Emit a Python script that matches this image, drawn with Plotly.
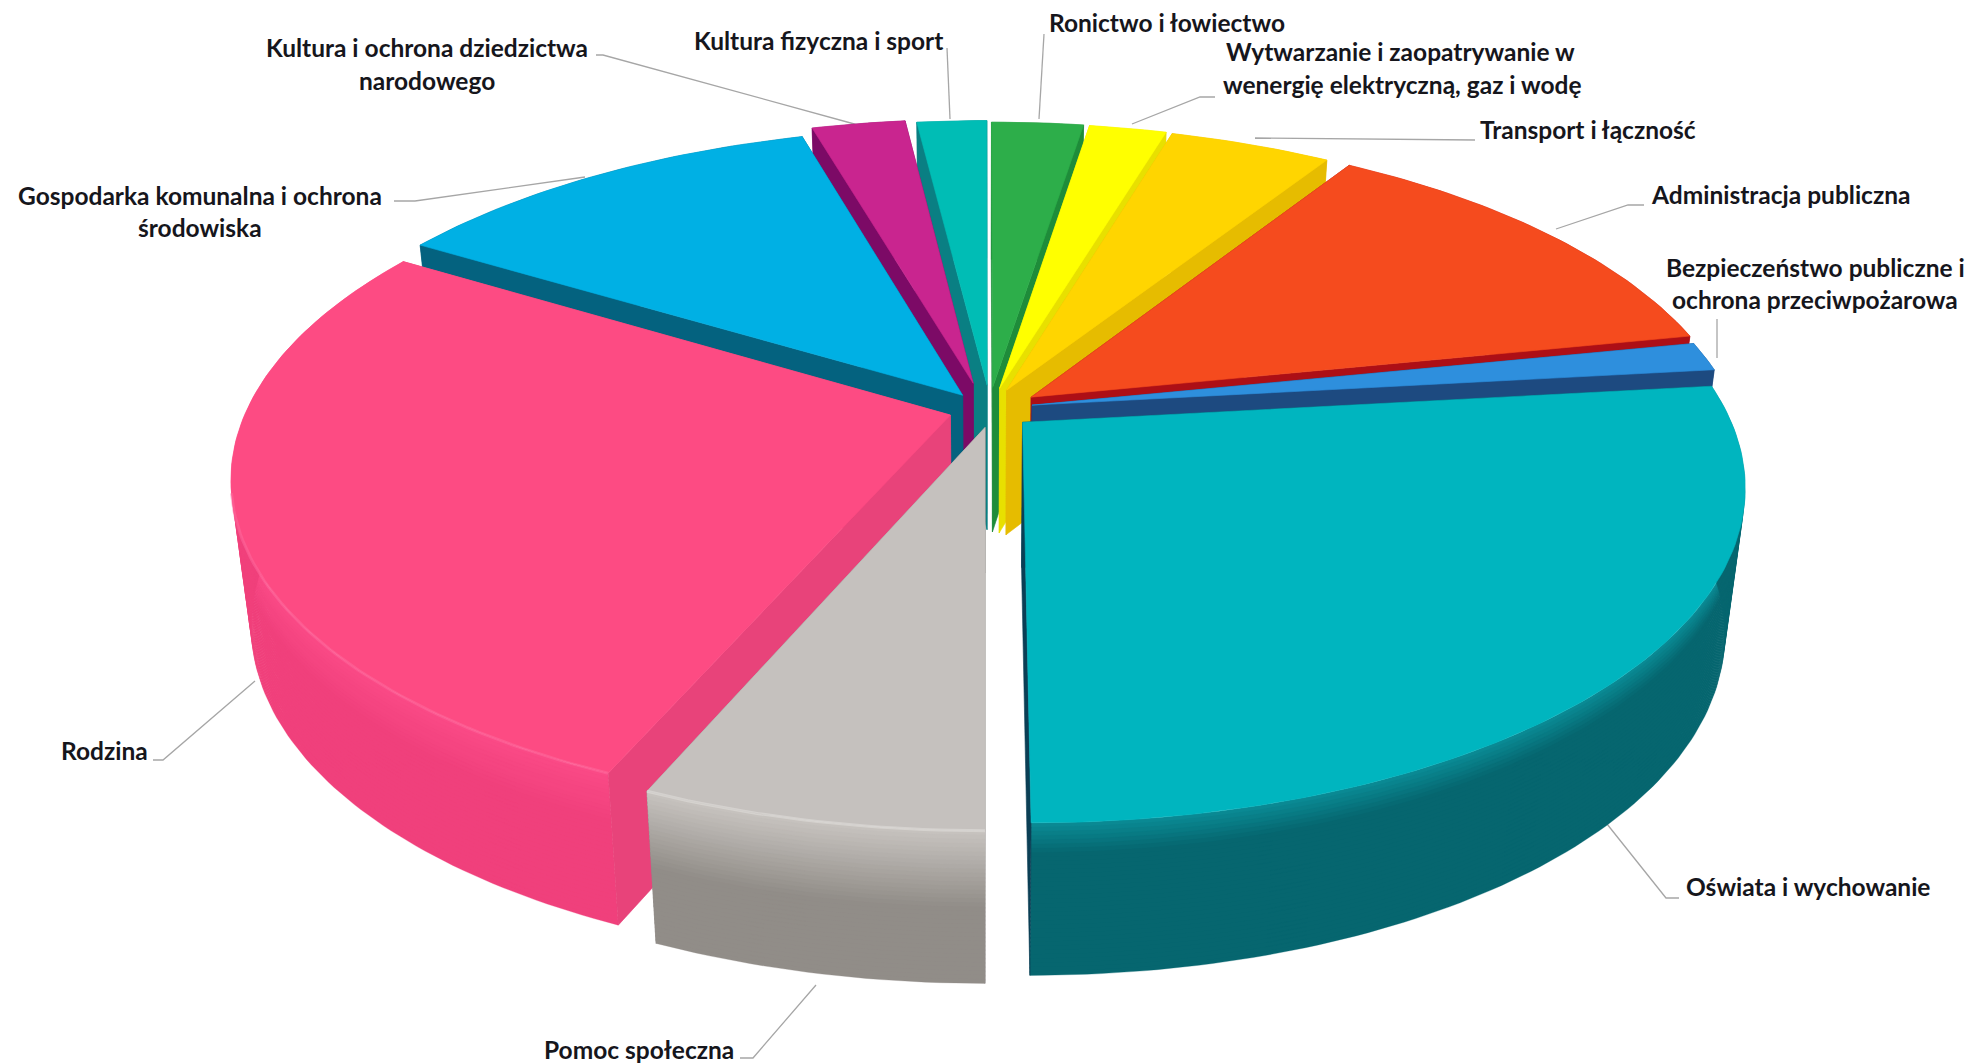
import numpy as np
import plotly.graph_objects as go

categories = ["Ronictwo i łowiectwo", "Wytwarzanie i zaopatrywanie w wenergię elektryczną, gaz i wodę",
              "Transport i łączność", "Administracja publiczna", "Bezpieczeństwo publiczne i ochrona przeciwpożarowa",
              "Oświata i wychowanie", "Pomoc społeczna", "Rodzina", "Gospodarka komunalna i ochrona środowiska",
              "Kultura i ochrona dziedzictwa narodowego", "Kultura fizyczna i sport"]
values = [2.5, 2.1, 4.4, 12.8, 1.4, 26.8, 6.45, 27.25, 11.85, 2.55, 1.9]

top_colors = ["#2DAE4A", "#FFFF00", "#FFD500", "#F54B1E", "#2E8FDD", "#00B5BF", "#C5C1BE", "#FD4B83", "#00B0E4", "#C9258F", "#00BDB5"]
side_colors = ["#1E8C3A", "#E8E000", "#E6BC00", "#AD0F16", "#1D4A80", "#0B3F55", "#8E8A86", "#E8437A", "#04627F", "#7C0A66", "#0A7F83"]
rim_top = ["#1E8C3A", "#E8E000", "#E6BC00", "#AD0F16", "#1D4A80", "#0A8C96", "#C8C4C0", "#FA4A86", "#04627F", "#7C0A66", "#0A7F83"]
rim_bottom = ["#1E8C3A", "#E8E000", "#E6BC00", "#AD0F16", "#1D4A80", "#06666F", "#918D88", "#F0407C", "#04627F", "#7C0A66", "#0A7F83"]
rim_fade = [1, 1, 1, 1, 1, 5, 2, 3, 1, 1, 1]
explode_u = [.011, .021, .031, .066, .067, .053, 0, -.049, -.032, -.017, .003]
explode_v = [.065, .062, .056, .034, .009, -.044, -.060, -.022, .04, .078, .072]

PW, PH = 1971, 1064
CX, CY, RX, RY, P, DEPTH = 985, 408, 703, 321, .184, 145


def project(u, v, z=0.0):
    u, v = np.asarray(u, float), np.asarray(v, float)
    s = 1 / (1 + P * v)
    x = CX + RX * u * s * (1 - .027 * z)
    y = CY - RY * v * s + DEPTH * z * (1 - .05 * v)
    return x, y


def poly(fig, x, y, color, lw=.6):
    fig.add_trace(go.Scatter(x=list(x), y=list(y), mode="lines", fill="toself", fillcolor=color,
                             line=dict(color=color, width=lw), hoverinfo="skip", showlegend=False))


def mix(a, b, t):
    t = min(1, t)
    ca = [int(a[k:k + 2], 16) for k in (1, 3, 5)]
    cb = [int(b[k:k + 2], 16) for k in (1, 3, 5)]
    return "#%02X%02X%02X" % tuple(int(round(p + (q - p) * t)) for p, q in zip(ca, cb))


fig = go.Figure()
total = sum(values)
edges = np.cumsum([0] + values) / total * 2 * np.pi
slices = [(i, edges[i], edges[i + 1]) for i in range(len(values))]
slices.sort(key=lambda t: -(np.cos((t[1] + t[2]) / 2) + explode_v[t[0]]))

for i, a0, a1 in slices:
    du, dv = explode_u[i], explode_v[i]
    th = np.linspace(a0, a1, max(8, int((a1 - a0) * 60)))
    u = du + np.sin(th)
    v = dv + np.cos(th)

    walls = []
    for ang, nu, nv in ((a0, -np.cos(a0), np.sin(a0)), (a1, np.cos(a1), -np.sin(a1))):
        eye = nu * (-du) + nv * (-1 / P - dv)
        walls.append((eye > 0, ang))
    walls.sort(key=lambda w: w[0])

    def draw_wall(ang):
        ru, rv = du + np.sin(ang), dv + np.cos(ang)
        x0, y0 = project([du, ru], [dv, rv], 0)
        x1, y1 = project([ru, du], [rv, dv], 1)
        poly(fig, list(x0) + list(x1) + [x0[0]], list(y0) + list(y1) + [y0[0]], side_colors[i])

    for front, ang in walls:
        if not front:
            draw_wall(ang)

    # outer wall in stacked bands, so it shades from the rim downwards
    bands = 36 if rim_top[i] != rim_bottom[i] else 1
    for b in range(bands):
        z0, z1 = b / bands, (b + 1) / bands + (.01 if b < bands - 1 else 0)
        col = mix(rim_top[i], rim_bottom[i], (b + .5) / bands * rim_fade[i])
        x0, y0 = project(u, v, z0)
        x1, y1 = project(u[::-1], v[::-1], z1)
        poly(fig, list(x0) + list(x1) + [x0[0]], list(y0) + list(y1) + [y0[0]], col, lw=.3)

    for front, ang in walls:
        if front:
            draw_wall(ang)

    xt, yt = project(np.r_[du, u, du], np.r_[dv, v, dv], 0)
    poly(fig, xt, yt, top_colors[i])

    if categories[i] in ("Pomoc społeczna", "Rodzina"):
        keep = v < -.25
        xr, yr = project(u[keep], v[keep], 0)
        hl = "#E8E6E3" if categories[i] == "Pomoc społeczna" else "#FF6FA3"
        fig.add_trace(go.Scatter(x=xr, y=yr, mode="lines", line=dict(color=hl, width=3),
                                 opacity=.45, hoverinfo="skip", showlegend=False))

FONT = dict(family="Lato, Carlito, sans-serif", size=24.5, color="#16161C")
labels = [
    ("<b>Kultura i ochrona dziedzictwa</b>", 427, 47), ("<b>narodowego</b>", 427, 80),
    ("<b>Kultura fizyczna i sport</b>", 818, 40),
    ("<b>Gospodarka komunalna i ochrona</b>", 200, 195), ("<b>środowiska</b>", 200, 227),
    ("<b>Ronictwo i łowiectwo</b>", 1167, 22),
    ("<b>Wytwarzanie i zaopatrywanie w</b>", 1400, 51), ("<b>wenergię elektryczną, gaz i wodę</b>", 1402, 84),
    ("<b>Transport i łączność</b>", 1588, 129),
    ("<b>Administracja publiczna</b>", 1780, 194),
    ("<b>Bezpieczeństwo publiczne i</b>", 1815, 267), ("<b>ochrona przeciwpożarowa</b>", 1815, 299),
    ("<b>Rodzina</b>", 104, 750),
    ("<b>Pomoc społeczna</b>", 639, 1049),
    ("<b>Oświata i wychowanie</b>", 1808, 886),
]
for text, x, y in labels:
    fig.add_annotation(x=x, y=y, text=text, showarrow=False, font=FONT, xanchor="center", yanchor="middle")

leaders = [
    [(596, 55), (603, 55), (858, 125)],
    [(947, 48), (950, 119)],
    [(394, 201), (415, 201), (585, 177)],
    [(1044, 34), (1039, 119)],
    [(1215, 97), (1200, 97), (1132, 124)],
    [(1475, 140), (1255, 138)],
    [(1644, 205), (1628, 205), (1556, 229)],
    [(1717, 319), (1717, 358)],
    [(153, 760), (163, 760), (255, 681)],
    [(740, 1058), (753, 1058), (816, 985)],
    [(1679, 898), (1666, 898), (1607, 824)],
]
for pts in leaders:
    path = "M " + " L ".join(f"{x},{y}" for x, y in pts)
    fig.add_shape(type="path", path=path, line=dict(color="#A6A6A6", width=1.3), layer="below")

fig.update_layout(width=PW, height=PH, margin=dict(l=0, r=0, t=0, b=0), paper_bgcolor="white", plot_bgcolor="white",
                  xaxis=dict(range=[0, PW], visible=False, fixedrange=True),
                  yaxis=dict(range=[PH, 0], visible=False, fixedrange=True), showlegend=False)
fig.write_html("out.html", config=dict(displayModeBar=False),
               post_script="document.body.style.margin='0';document.body.style.overflow='hidden';")
